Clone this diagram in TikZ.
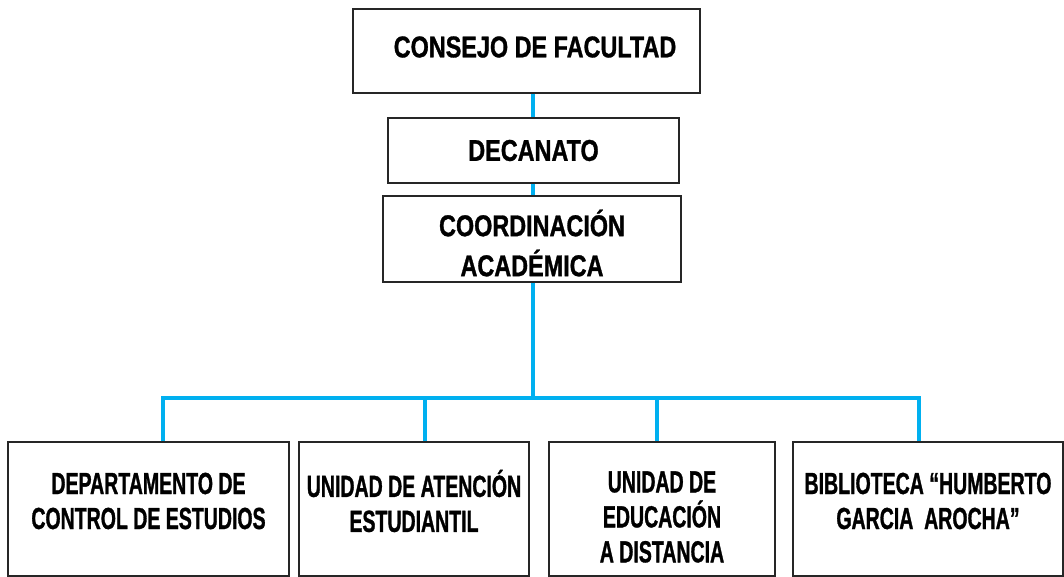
\documentclass[tikz,border=0pt]{standalone}
\usepackage{fontspec}
\setmainfont{Liberation Sans}
\newfontfamily\topfont{Liberation Sans}[FakeStretch=0.78,FakeBold=1]
\newfontfamily\lowfont{Liberation Sans}[FakeStretch=0.64,FakeBold=1]
\usetikzlibrary{positioning}
\definecolor{linkblue}{RGB}{0,176,240}
\def\boxcol{black!85}
\def\boxlw{1.3pt}

\begin{document}
\begin{tikzpicture}[x=1pt,y=-1pt,
	frame/.style={draw=\boxcol,line width=\boxlw,fill=white,inner sep=0pt},
	toptext/.style={align=center,inner sep=0pt,font=\topfont\bfseries\fontsize{30}{40}\selectfont},
	lowtext/.style={align=center,inner sep=0pt,font=\lowfont\bfseries\fontsize{30.5}{35}\selectfont},
	link/.style={draw=linkblue,line width=4.5pt}]
\useasboundingbox (0,0) rectangle (1064,577);
% upper chain
\node [frame,minimum width=347pt,minimum height=84pt] (consejo) at (526.5,51) {};
\node [frame,minimum width=291pt,minimum height=65pt] (decanato) at (533.5,150.5) {};
\node [frame,minimum width=298pt,minimum height=86pt] (coord) at (532,239) {};
\node [toptext,xshift=8.5pt,yshift=4pt] (consejo-t) at (consejo) {CONSEJO DE FACULTAD};
\node [toptext] (decanato-t) at (decanato) {DECANATO};
\node [toptext,yshift=-4pt] (coord-t) at (coord) {COORDINACIÓN\\ACADÉMICA};
% lower units
\node [frame,minimum width=281pt,minimum height=134pt] (depto) at (148.5,509) {};
\node [frame,minimum width=230pt,minimum height=134pt] (atencion) at (414,509) {};
\node [frame,minimum width=226pt,minimum height=134pt] (distancia) at (662,509) {};
\node [frame,minimum width=270pt,minimum height=134pt] (biblio) at (928,509) {};
\node [lowtext,yshift=8pt] (depto-t) at (depto) {DEPARTAMENTO DE\\CONTROL DE ESTUDIOS};
\node [lowtext,yshift=8pt] (atencion-t) at (atencion) {UNIDAD DE ATENCIÓN\\ESTUDIANTIL};
\node [lowtext,yshift=-8pt] (distancia-t) at (distancia) {UNIDAD DE\\EDUCACIÓN\\A DISTANCIA};
\node [lowtext,yshift=8pt] (biblio-t) at (biblio) {BIBLIOTECA “HUMBERTO\\GARCIA\ \ AROCHA”};
% links
\coordinate (bus) at (533,398);
\draw [link] (consejo.south -| bus) -- (decanato.north -| bus);
\draw [link] (decanato.south -| bus) -- (coord.north -| bus);
\draw [link] (coord.south -| bus) -- (bus);
\draw [link] (depto.north -| 163,0) -- (bus -| 163,0) -- (bus -| 919,0) -- (biblio.north -| 919,0);
\draw [link] (atencion.north -| 425,0) -- (bus -| 425,0);
\draw [link] (distancia.north -| 657,0) -- (bus -| 657,0);
\end{tikzpicture}
\end{document}
